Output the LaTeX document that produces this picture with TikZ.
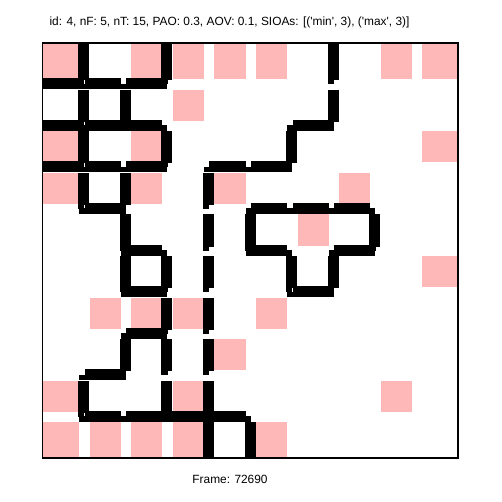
\documentclass[tikz,border=0pt]{standalone}
\usepackage{fontspec}
\setmainfont{Liberation Sans}
\definecolor{cellpink}{RGB}{255,184,184}
\newcommand\Vw[2]{%
  \pgfmathsetmacro\wwx{42+41.6*#1}%
  \pgfmathsetmacro\wwya{ifthenelse(#2==0,42,42+41.6*#2+6)}%
  \pgfmathsetmacro\wwyb{42+41.6*(#2+1)}%
  \ifnum#2=9\relax
    \fill[wall] (\wwx-5.5,\wwya) rectangle (\wwx+5.5,458);%
  \else
    \fill[wall] (\wwx-5.5,\wwya) rectangle (\wwx+5.5,\wwyb-3.5);%
    \fill[wall] (\wwx-5.5,\wwyb-3.5) rectangle (\wwx+0.8,\wwyb+0.5);%
  \fi}
\newcommand\Hw[2]{%
  \pgfmathsetmacro\wwy{42+41.6*#1}%
  \pgfmathsetmacro\wua{ifthenelse(#2==0,42,42+41.6*#2+1)}%
  \pgfmathsetmacro\wub{ifthenelse(#2==9,458,42+41.6*(#2+1)-4.5)}%
  \pgfmathsetmacro\wla{ifthenelse(#2==0,42,42+41.6*#2-4.5)}%
  \pgfmathsetmacro\wlb{ifthenelse(#2==9,458,42+41.6*(#2+1)+0.5)}%
  \fill[wall] (\wua,\wwy-5.5) rectangle (\wub,\wwy+0.3);%
  \fill[wall] (\wla,\wwy) rectangle (\wlb,\wwy+5.5);}
\newcommand\Pk[2]{%
  \pgfmathsetmacro\pxa{ifthenelse(#2==0,43.3,42+41.6*#2+6)}%
  \pgfmathsetmacro\pxb{ifthenelse(#2==9,456.7,42+41.6*(#2+1)-4.5)}%
  \pgfmathsetmacro\pya{ifthenelse(#1==0,43.5,42+41.6*#1+6)}%
  \pgfmathsetmacro\pyb{ifthenelse(#1==9,456.7,42+41.6*(#1+1)-4.5)}%
  \fill[cellpink] (\pxa,\pya) rectangle (\pxb,\pyb);}
\begin{document}
\begin{tikzpicture}[x=1pt,y=-1pt, wall/.style={fill=black},
  lbl/.style={anchor=base, font=\fontsize{11.9}{14}\selectfont, inner sep=0pt}]
\useasboundingbox (0,0) rectangle (502,502);
\fill[white] (0,0) rectangle (502,502);
% pink cells (row/col)
\foreach \r/\c in {0/0,0/2,0/3,0/4,0/5,0/8,0/9,
                   1/3,
                   2/0,2/2,2/9,
                   3/0,3/2,3/4,3/7,
                   4/6,
                   5/9,
                   6/1,6/2,6/3,6/5,
                   7/4,
                   8/0,8/3,8/8,
                   9/0,9/1,9/2,9/3,9/5} {\Pk{\r}{\c}}
% vertical walls (boundary index / row)
\foreach \k/\r in {1/0,1/1,1/2,1/3,1/8,
                   2/1,2/3,2/4,2/5,2/7,
                   3/0,3/2,3/5,3/6,3/7,3/8,
                   4/3,4/4,4/5,4/6,4/7,4/8,4/9,
                   5/4,5/9,
                   6/2,6/5,
                   7/0,7/1,7/5,
                   8/4} {\Vw{\k}{\r}}
% horizontal walls (boundary index / column)
\foreach \k/\c in {1/0,1/1,1/2,
                   2/0,2/1,2/2,2/6,
                   3/0,3/1,3/2,3/4,3/5,
                   4/1,4/5,4/6,4/7,
                   5/2,5/5,5/7,
                   6/2,6/6,
                   7/2,
                   8/1,
                   9/1,9/2,9/3,9/4} {\Hw{\k}{\c}}
% frame
\draw[line width=1.5] (42.5,42.8) rectangle (457.8,457.8);
\node[lbl] (title) at (229.5,25.3) {id: 4, nF: 5, nT: 15, PAO: 0.3, AOV: 0.1, SIOAs: [(\textquotesingle min\textquotesingle, 3), (\textquotesingle max\textquotesingle, 3)]};
\node[lbl] (framelbl) at (230,483.3) {Frame: 72690};
\end{tikzpicture}
\end{document}
